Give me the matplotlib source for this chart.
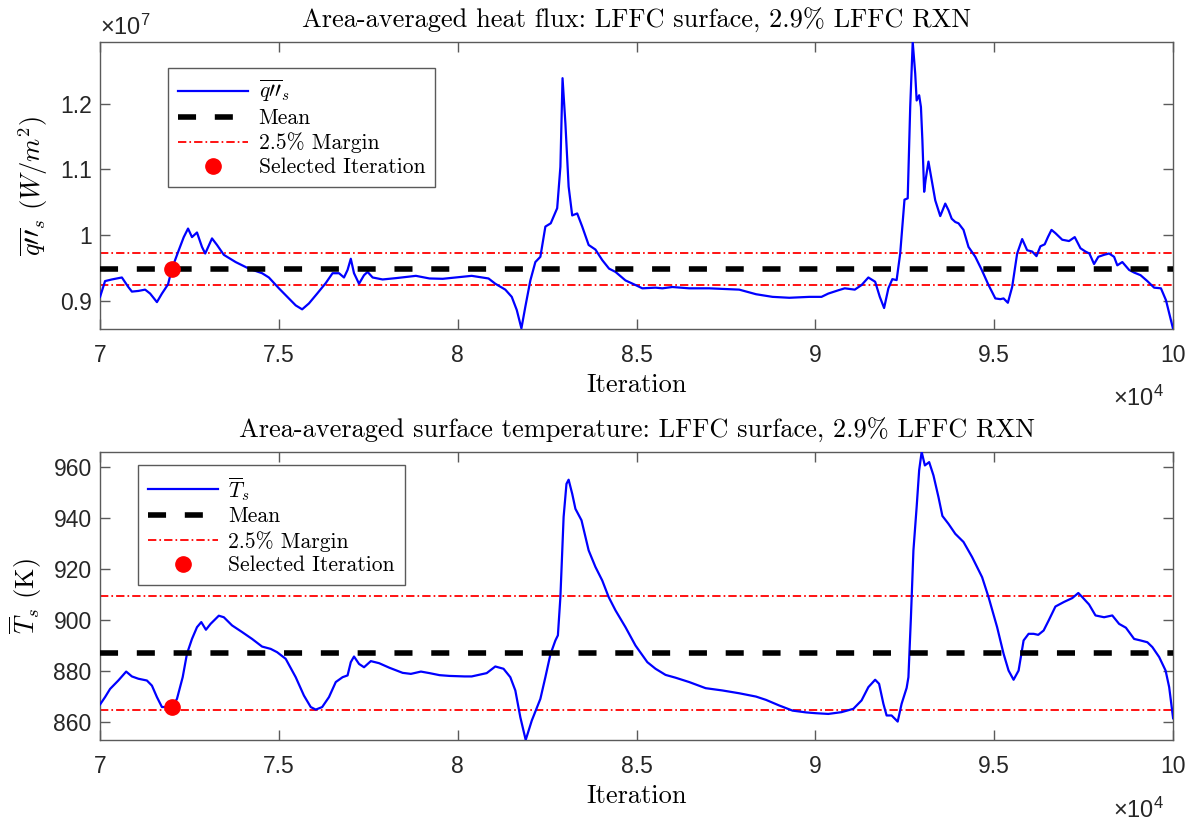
import numpy as np
import matplotlib
matplotlib.use('Agg')
import matplotlib.pyplot as plt
from matplotlib.ticker import FixedLocator, FuncFormatter
from matplotlib.font_manager import FontProperties

plt.rcParams['font.family'] = 'Liberation Sans'
plt.rcParams['mathtext.fontset'] = 'cm'
plt.rcParams['lines.scale_dashes'] = False

# Area-averaged heat flux on the LFFC surface (x1e7 W/m^2)
iter_q = [70000, 70140, 70330, 70610, 70790, 70890, 71070, 71260, 71400, 71590,
          71730, 71900, 72010, 72200, 72340, 72460, 72570, 72710, 72850, 72940,
          73130, 73270, 73460, 73790, 74160, 74530, 74720, 75000, 75280, 75470,
          75650, 75840, 76070, 76310, 76500, 76680, 76820, 76920, 77010, 77100,
          77240, 77380, 77480, 77620, 77900, 78270, 78830, 79210, 79580, 79930,
          80390, 80860, 81050, 81330, 81510, 81650, 81780, 81890, 82030, 82170,
          82310, 82450, 82600, 82780, 82870, 82930, 83010, 83100, 83200, 83340,
          83480, 83660, 83850, 84040, 84230, 84410, 84690, 84970, 85160, 85530,
          85720, 86000, 86470, 87030, 87870, 88340, 88800, 89270, 89830, 90170,
          90360, 90640, 90820, 91100, 91290, 91480, 91670, 91800, 91920, 92040,
          92150, 92270, 92370, 92490, 92580, 92650, 92720, 92790, 92830, 92900,
          92950, 92990, 93040, 93080, 93160, 93250, 93350, 93490, 93630, 93720,
          93810, 93910, 94000, 94140, 94280, 94470, 94650, 94840, 95030, 95170,
          95260, 95380, 95500, 95640, 95780, 95920, 96060, 96180, 96290, 96410,
          96500, 96600, 96710, 96900, 97090, 97250, 97410, 97550, 97660, 97790,
          97910, 98070, 98210, 98350, 98440, 98580, 98770, 98910, 99090, 99280,
          99470, 99660, 99800, 99890, 100000]
q_flux = [0.906, 0.930, 0.9325, 0.9355, 0.921, 0.914, 0.915, 0.917, 0.911, 0.898,
          0.911, 0.925, 0.949, 0.977, 0.997, 1.010, 0.997, 1.004, 0.982, 0.972,
          0.995, 0.985, 0.970, 0.959, 0.949, 0.942, 0.9355, 0.919, 0.9036, 0.893,
          0.887, 0.896, 0.911, 0.927, 0.942, 0.942, 0.9355, 0.947, 0.964, 0.942,
          0.926, 0.939, 0.944, 0.9355, 0.9325, 0.9345, 0.938, 0.934, 0.9335, 0.9355,
          0.938, 0.934, 0.926, 0.917, 0.906, 0.886, 0.858, 0.891, 0.931, 0.959,
          0.967, 1.013, 1.018, 1.041, 1.104, 1.239, 1.170, 1.074, 1.030, 1.033,
          1.013, 0.985, 0.978, 0.962, 0.949, 0.944, 0.931, 0.924, 0.919, 0.920,
          0.919, 0.921, 0.919, 0.919, 0.917, 0.910, 0.906, 0.9046, 0.906, 0.906,
          0.911, 0.916, 0.919, 0.917, 0.924, 0.9355, 0.929, 0.906, 0.889, 0.919,
          0.933, 0.9315, 0.972, 1.054, 1.056, 1.195, 1.294, 1.246, 1.205, 1.213,
          1.195, 1.145, 1.066, 1.084, 1.112, 1.084, 1.053, 1.029, 1.048, 1.038,
          1.025, 1.020, 1.018, 1.008, 0.982, 0.967, 0.947, 0.924, 0.9036, 0.9025,
          0.9036, 0.897, 0.921, 0.972, 0.994, 0.977, 0.975, 0.968, 0.983, 0.986,
          0.997, 1.008, 1.003, 0.993, 0.991, 0.997, 0.980, 0.975, 0.972, 0.956,
          0.967, 0.970, 0.972, 0.967, 0.954, 0.959, 0.947, 0.943, 0.939, 0.930,
          0.920, 0.919, 0.901, 0.881, 0.857]

# Area-averaged surface temperature (K)
iter_T = [70000, 70140, 70280, 70510, 70730, 70890, 71070, 71310, 71450, 71590,
          71730, 72010, 72150, 72310, 72430, 72570, 72710, 72830, 72960, 73090,
          73320, 73460, 73690, 73970, 74250, 74530, 74770, 74950, 75190, 75470,
          75700, 75890, 76030, 76210, 76400, 76590, 76780, 76920, 77010, 77100,
          77240, 77380, 77570, 77800, 78090, 78460, 78690, 78970, 79210, 79490,
          79770, 80190, 80390, 80810, 81050, 81280, 81470, 81610, 81750, 81900,
          82070, 82310, 82450, 82590, 82730, 82800, 82870, 82960, 83040, 83100,
          83200, 83290, 83460, 83660, 83850, 84040, 84220, 84410, 84690, 84970,
          85300, 85530, 85810, 86090, 86470, 86930, 87400, 87870, 88340, 88620,
          88990, 89360, 89740, 90000, 90360, 90730, 91060, 91290, 91480, 91670,
          91780, 91900, 91990, 92130, 92300, 92410, 92550, 92600, 92670, 92740,
          92830, 92900, 92970, 93060, 93180, 93300, 93440, 93550, 93720, 93910,
          94140, 94380, 94660, 94840, 95080, 95260, 95400, 95540, 95680, 95820,
          95960, 96100, 96230, 96380, 96520, 96710, 96950, 97180, 97350, 97460,
          97650, 97830, 98070, 98300, 98490, 98680, 98910, 99090, 99280, 99420,
          99610, 99790, 99890, 100000]
T_surf = [866.8, 869.7, 872.9, 876.2, 879.7, 877.8, 876.9, 876.2, 874.2, 869.7,
          865.8, 865.8, 869.0, 877.5, 886.7, 892.5, 897.1, 899.1, 896.1, 898.4,
          901.6, 901.0, 897.8, 895.2, 892.5, 889.5, 888.6, 887.3, 884.7, 877.5,
          870.3, 865.8, 864.8, 865.8, 869.7, 875.6, 877.5, 878.2, 883.4, 885.6,
          882.7, 881.4, 883.8, 883.0, 881.2, 879.2, 878.8, 879.7, 879.1, 878.3,
          878.0, 877.8, 877.8, 879.1, 881.7, 880.8, 877.5, 872.3, 861.8, 852.9,
          860.5, 869.0, 877.5, 886.4, 891.9, 893.9, 908.9, 940.3, 953.3, 954.9,
          949.4, 943.5, 939.0, 927.2, 920.7, 915.4, 908.9, 903.7, 897.1, 889.9,
          883.4, 880.8, 878.4, 877.3, 875.6, 873.2, 872.3, 871.2, 869.9, 868.6,
          866.4, 864.4, 863.7, 863.4, 863.1, 863.8, 865.1, 868.4, 873.6, 876.5,
          874.9, 867.1, 862.5, 862.5, 860.1, 867.1, 873.3, 877.5, 901.0, 927.2,
          944.2, 958.6, 965.8, 960.5, 961.8, 956.6, 948.1, 940.7, 937.6, 933.7,
          930.5, 924.6, 916.7, 908.9, 897.1, 886.7, 880.1, 876.5, 880.1, 891.9,
          894.5, 894.5, 894.1, 895.8, 899.7, 905.2, 907.0, 908.5, 910.5, 908.9,
          906.0, 901.7, 901.0, 901.7, 898.4, 896.9, 892.5, 891.9, 891.2, 889.3,
          885.4, 880.1, 873.6, 861.4]

q_mean = 0.9485
T_mean = 887.0
margin = 0.025
selected_iter = 72010
q_selected = 0.949
T_selected = 865.8

iter_q = np.array(iter_q)
q_flux = np.array(q_flux) * 1e7
iter_T = np.array(iter_T)
T_surf = np.array(T_surf)

cm_font = 'cmr10'
ax_col = '#5a5a5a'
txt_col = '#262626'


def style_axes(ax):
    for sp in ax.spines.values():
        sp.set_color(ax_col)
        sp.set_linewidth(1.0)
    ax.tick_params(direction='in', length=7, width=1.0, top=True, right=True,
                   color=ax_col, labelcolor=txt_col, labelsize=16.5)
    ax.tick_params(axis='x', pad=11)
    ax.tick_params(axis='y', pad=6)
    ax.set_xlim(70000, 100000)
    ax.xaxis.set_major_locator(FixedLocator(np.arange(70000, 100001, 5000)))
    ax.xaxis.set_major_formatter(FuncFormatter(lambda v, p: f'{v / 1e4:g}'))
    ax.set_xlabel('Iteration', fontfamily=cm_font, fontsize=19, labelpad=4)


def draw_panel(ax, x, y, mean, sel_x, sel_y, line_label):
    ax.plot(x, y, color='#0000ff', lw=1.6, label=line_label, zorder=3)
    ax.axhline(mean, color='k', lw=4, linestyle=(0, (13, 13.5)), label='Mean', zorder=4)
    ax.axhline(mean * (1 + margin), color='#ff0000', lw=1.3,
               linestyle=(0, (6, 2.2, 1.2, 2.2)), label='2.5% Margin', zorder=2)
    ax.axhline(mean * (1 - margin), color='#ff0000', lw=1.3,
               linestyle=(0, (6, 2.2, 1.2, 2.2)), zorder=2)
    ax.plot([sel_x], [sel_y], 'o', color='#ff0000', ms=11, mec='#ff0000',
            label='Selected Iteration', zorder=5)
    ax.set_ylim(y.min(), y.max())


def add_legend(ax, anchor):
    leg = ax.legend(loc='upper left', bbox_to_anchor=anchor, borderaxespad=0,
                    prop=FontProperties(family=cm_font, size=15.5),
                    fancybox=False, framealpha=1, edgecolor=ax_col,
                    handlelength=3.25, handletextpad=0.5, labelspacing=0.2,
                    borderpad=0.45)
    leg.get_frame().set_linewidth(1.0)


def exponent(fig, x, y, power):
    # axis multiplier drawn in the tick-label font
    fig.text(x / 1194, 1 - y / 823, r'$\mathregular{×10^{%s}}$' % power,
             fontsize=17, color=txt_col, ha='left', va='baseline')


fig = plt.figure(figsize=(11.94, 8.23), dpi=100)
ax1 = fig.add_axes([0.0838, 0.6002, 0.8987, 0.3487])
ax2 = fig.add_axes([0.0838, 0.1009, 0.8987, 0.3500])

# heat flux panel
draw_panel(ax1, iter_q, q_flux, q_mean * 1e7, selected_iter, q_selected * 1e7,
           r'$\overline{q\prime\prime}_s$')
style_axes(ax1)
ax1.yaxis.set_major_locator(FixedLocator([0.9e7, 1.0e7, 1.1e7, 1.2e7]))
ax1.yaxis.set_major_formatter(FuncFormatter(lambda v, p: f'{v / 1e7:g}'))
ax1.set_ylabel(r'$\overline{q\prime\prime}_s$ $(W/m^2)$', fontfamily=cm_font,
               fontsize=19, labelpad=7)
ax1.set_title('Area-averaged heat flux: LFFC surface, 2.9% LFFC RXN',
              fontfamily=cm_font, fontsize=19, pad=10)
add_legend(ax1, (0.0634, 0.909))

# surface temperature panel
draw_panel(ax2, iter_T, T_surf, T_mean, selected_iter, T_selected,
           r'$\overline{T}_s$')
style_axes(ax2)
ax2.yaxis.set_major_locator(FixedLocator([860, 880, 900, 920, 940, 960]))
ax2.set_ylabel(r'$\overline{T}_s$ (K)', fontfamily=cm_font, fontsize=19, labelpad=7)
ax2.set_title('Area-averaged surface temperature: LFFC surface, 2.9% LFFC RXN',
              fontfamily=cm_font, fontsize=19, pad=10)
add_legend(ax2, (0.0354, 0.955))

exponent(fig, 100, 35, '7')
exponent(fig, 1113, 406, '4')
exponent(fig, 1113, 818, '4')

fig.savefig('out.png', dpi=100, facecolor='white')
